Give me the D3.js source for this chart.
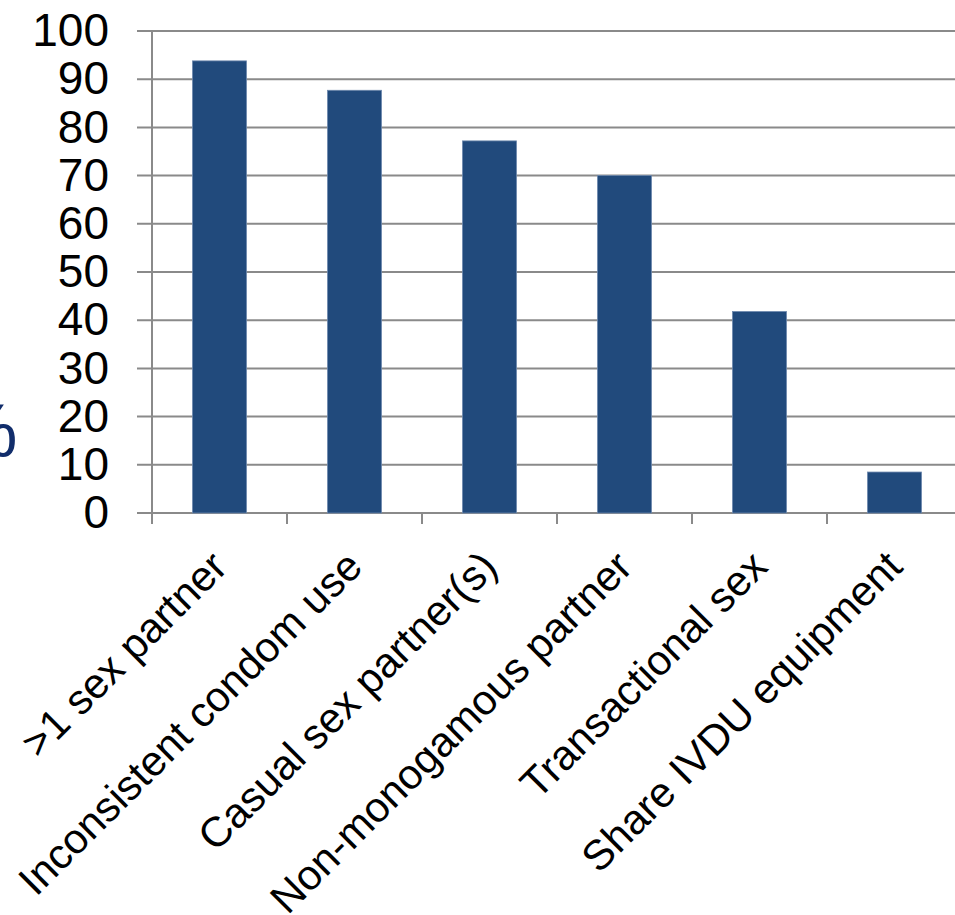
<!DOCTYPE html>
<html>
<head>
<meta charset="utf-8">
<script src="https://cdn.jsdelivr.net/npm/d3@7"></script>
<style>
  html, body { margin: 0; padding: 0; background: #ffffff; overflow: hidden; }
  svg { display: block; }
  text { font-family: "Liberation Sans", Arial, sans-serif; }
</style>
</head>
<body>
<svg id="chart" width="955" height="915"></svg>
<script>
const categories = [">1 sex partner", "Inconsistent condom use", "Casual sex partner(s)", "Non-monogamous partner", "Transactional sex", "Share IVDU equipment"];
const values = [93.8, 87.7, 77.2, 70.0, 41.8, 8.5];
const yTicks = [0, 10, 20, 30, 40, 50, 60, 70, 80, 90, 100];
const yLabel = "%";

const svg = d3.select("#chart");
const plotLeft = 152, plotRight = 962, plotTop = 31, plotBottom = 513;

const x = d3.scaleBand().domain(categories).range([plotLeft, plotRight]).paddingInner(0.6).paddingOuter(0.3);
const y = d3.scaleLinear().domain([0, 100]).range([plotBottom, plotTop]);

const gridColor = "#8a8a8a";

// gridlines with left tick stubs
svg.append("g").selectAll("line").data(yTicks).join("line")
  .attr("x1", plotLeft - 15).attr("x2", 955)
  .attr("y1", d => y(d)).attr("y2", d => y(d))
  .attr("stroke", gridColor).attr("stroke-width", 2);

// y axis line
svg.append("line").attr("x1", plotLeft).attr("x2", plotLeft)
  .attr("y1", y(100)).attr("y2", plotBottom + 11)
  .attr("stroke", gridColor).attr("stroke-width", 2);

// category boundary ticks
const step = x.step();
const bounds = d3.range(1, categories.length).map(i => plotLeft + i * step);
svg.append("g").selectAll("line").data(bounds).join("line")
  .attr("x1", d => d).attr("x2", d => d)
  .attr("y1", plotBottom).attr("y2", plotBottom + 11)
  .attr("stroke", gridColor).attr("stroke-width", 2);

// bars
svg.append("g").selectAll("rect").data(values).join("rect")
  .attr("x", (d, i) => x(categories[i]))
  .attr("width", x.bandwidth())
  .attr("y", d => y(d))
  .attr("height", d => y(0) - y(d))
  .attr("fill", "#214a7c")
  .attr("stroke", "#6d88ad").attr("stroke-width", 0.8);

// y tick labels
svg.append("g").selectAll("text").data(yTicks).join("text")
  .attr("x", 109).attr("y", d => y(d))
  .attr("dy", "0.33em")
  .attr("text-anchor", "end")
  .attr("font-size", 46)
  .attr("fill", "#000")
  .text(d => d);

// x labels, rotated
svg.append("g").selectAll("text").data(categories).join("text")
  .attr("transform", d => `translate(${x(d) + x.bandwidth() / 2 + 10},569) rotate(-45)`)
  .attr("text-anchor", "end")
  .attr("font-size", 42)
  .attr("fill", "#000")
  .text(d => d);

// partially visible y-axis title
svg.append("text")
  .attr("x", 17.5).attr("y", 456)
  .attr("text-anchor", "end")
  .attr("font-size", 76)
  .attr("fill", "#112d6b")
  .text(yLabel);
</script>
</body>
</html>
